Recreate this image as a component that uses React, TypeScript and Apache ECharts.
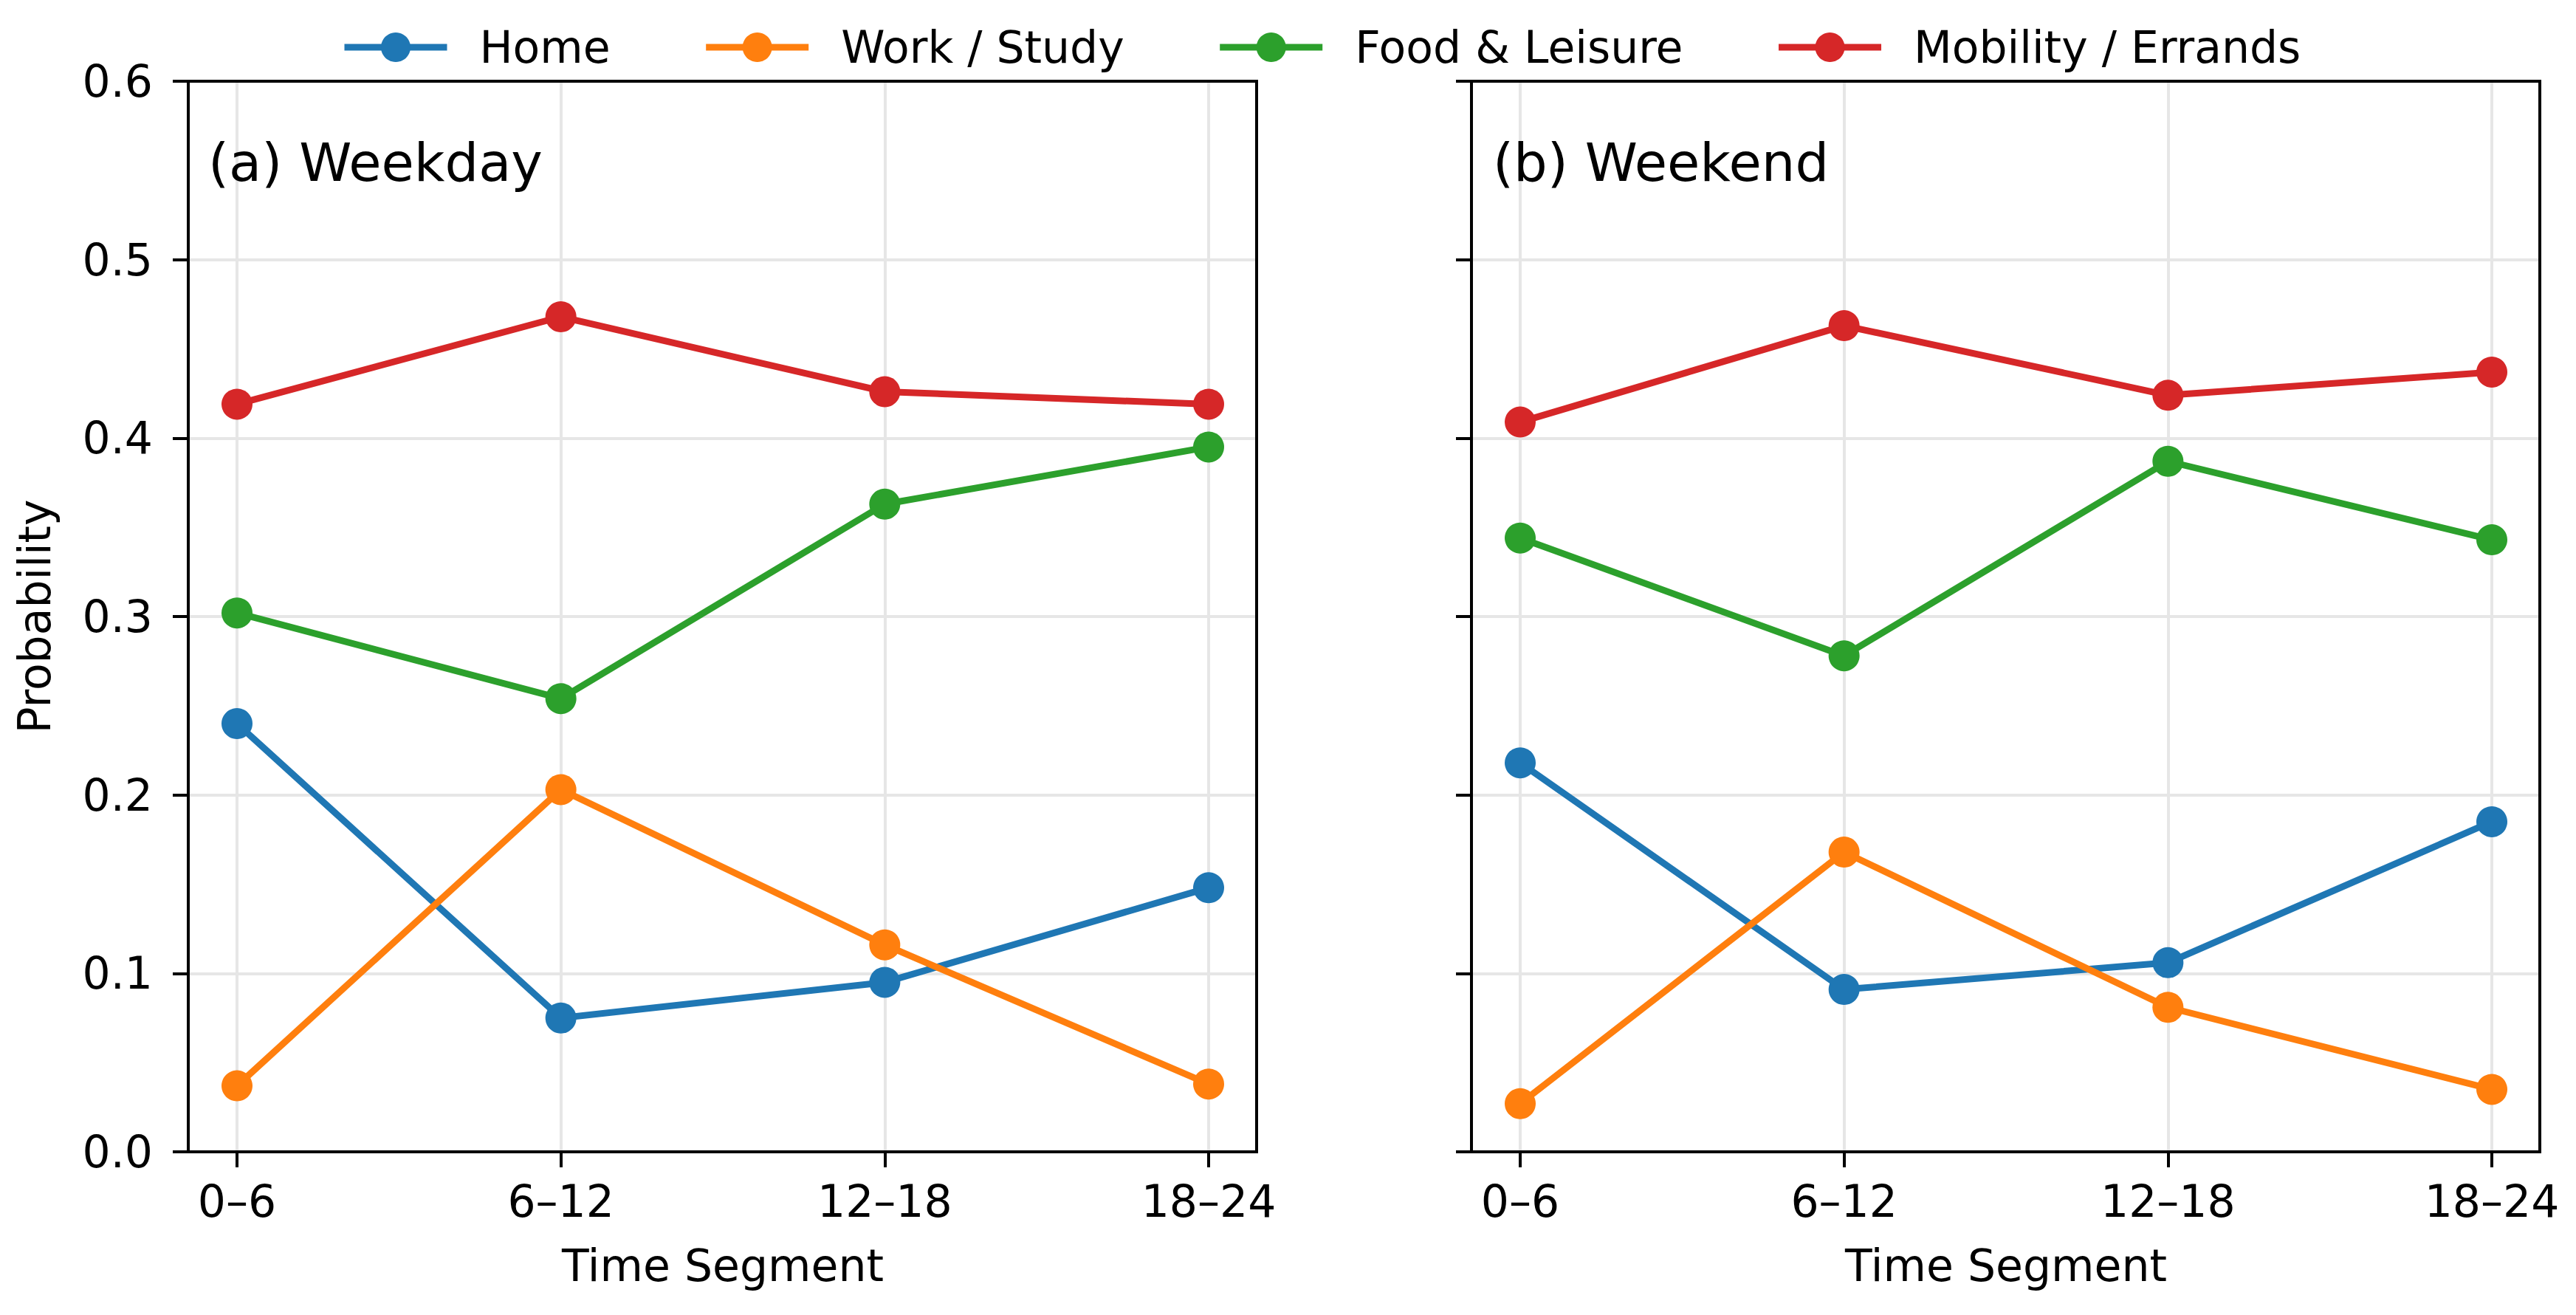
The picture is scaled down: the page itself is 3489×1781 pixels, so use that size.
import React, { useEffect, useRef } from 'react';
import * as echarts from 'echarts';

const CATEGORIES = ['0–6', '6–12', '12–18', '18–24'];
const SERIES_NAMES = ['Home', 'Work / Study', 'Food & Leisure', 'Mobility / Errands'];
const COLORS = ['#1f77b4', '#ff7f0e', '#2ca02c', '#d62728'];

const WEEKDAY_HOME = [0.240, 0.075, 0.095, 0.148];
const WEEKDAY_WORK = [0.037, 0.203, 0.116, 0.038];
const WEEKDAY_FOOD = [0.302, 0.254, 0.363, 0.395];
const WEEKDAY_MOBILITY = [0.419, 0.468, 0.426, 0.419];

const WEEKEND_HOME = [0.218, 0.091, 0.106, 0.185];
const WEEKEND_WORK = [0.027, 0.168, 0.081, 0.035];
const WEEKEND_FOOD = [0.344, 0.278, 0.387, 0.343];
const WEEKEND_MOBILITY = [0.409, 0.463, 0.424, 0.437];

const PANEL_TITLES = ['(a) Weekday', '(b) Weekend'];
const Y_MIN = 0;
const Y_MAX = 0.6;
const Y_STEP = 0.1;
const X_NAME = 'Time Segment';
const Y_NAME = 'Probability';

const FONT = 'DejaVu Sans';
const W = 3489;
const H = 1781;

function buildOption() {
  const panels = [
    { frameLeft: 255, dataLeft: 321, title: PANEL_TITLES[0], titleLeft: 282, data: [WEEKDAY_HOME, WEEKDAY_WORK, WEEKDAY_FOOD, WEEKDAY_MOBILITY], showYLabels: true },
    { frameLeft: 1993, dataLeft: 2059, title: PANEL_TITLES[1], titleLeft: 2022, data: [WEEKEND_HOME, WEEKEND_WORK, WEEKEND_FOOD, WEEKEND_MOBILITY], showYLabels: false },
  ];
  const top = 110;
  const height = 1450;
  const frameWidth = 1447;
  const dataWidth = 1316;
  const grid: any[] = [];
  const xAxis: any[] = [];
  const yAxis: any[] = [];
  const series: any[] = [];
  const title: any[] = [];
  const tickStyle = { show: true, length: 21, inside: false, lineStyle: { color: '#000', width: 4 } };
  const splitStyle = { color: '#e6e6e6', width: 4 };
  panels.forEach((p, i) => {
    const outer = i * 2;
    const inner = i * 2 + 1;
    grid.push({ left: p.frameLeft, top, width: frameWidth, height, show: true, borderColor: '#000', borderWidth: 4, backgroundColor: 'transparent', z: 3 });
    grid.push({ left: p.dataLeft, top, width: dataWidth, height });
    xAxis.push({ gridIndex: outer, type: 'value', min: 0, max: 1, show: false });
    xAxis.push({
      gridIndex: inner,
      type: 'category',
      data: CATEGORIES,
      boundaryGap: false,
      axisLine: { show: false },
      axisTick: { ...tickStyle, alignWithLabel: true, interval: 0 },
      axisLabel: { fontSize: 60, color: '#000', fontFamily: FONT, margin: 37, interval: 0 },
      splitLine: { show: true, interval: 0, lineStyle: splitStyle },
      name: X_NAME,
      nameLocation: 'middle',
      nameGap: 124,
      nameTextStyle: { fontSize: 60, color: '#000', fontFamily: FONT },
    });
    yAxis.push({
      gridIndex: outer,
      type: 'value',
      min: Y_MIN,
      max: Y_MAX,
      interval: Y_STEP,
      axisLine: { show: false },
      axisTick: tickStyle,
      axisLabel: {
        show: p.showYLabels,
        fontSize: 60,
        color: '#000',
        fontFamily: FONT,
        margin: 48,
        formatter: (v: number) => v.toFixed(1),
      },
      splitLine: { show: true, showMinLine: false, showMaxLine: false, lineStyle: splitStyle },
      name: p.showYLabels ? Y_NAME : '',
      nameLocation: 'middle',
      nameGap: 178,
      nameTextStyle: { fontSize: 60, color: '#000', fontFamily: FONT },
    });
    yAxis.push({ gridIndex: inner, type: 'value', min: Y_MIN, max: Y_MAX, show: false });
    SERIES_NAMES.forEach((name, k) => {
      series.push({
        type: 'line',
        name,
        xAxisIndex: inner,
        yAxisIndex: inner,
        data: p.data[k],
        symbol: 'circle',
        symbolSize: 42,
        color: COLORS[k],
        lineStyle: { color: COLORS[k], width: 9 },
        itemStyle: { color: COLORS[k] },
        z: 4 + k,
      });
    });
    title.push({
      text: p.title,
      left: p.titleLeft,
      top: 184,
      padding: 0,
      textStyle: { fontSize: 72, fontWeight: 'normal', color: '#000', fontFamily: FONT },
    });
  });
  return {
    animation: false,
    backgroundColor: '#fff',
    textStyle: { fontFamily: FONT },
    title,
    legend: {
      data: SERIES_NAMES,
      left: 462,
      top: 34,
      padding: 0,
      itemWidth: 139,
      itemHeight: 50,
      itemGap: 125,
      selectedMode: false,
      lineStyle: { width: 9 },
      textStyle: { fontSize: 60, color: '#000', fontFamily: FONT, padding: [0, 0, 0, 39] },
    },
    grid,
    xAxis,
    yAxis,
    series,
  };
}

export default function App() {
  const ref = useRef<HTMLDivElement>(null);
  useEffect(() => {
    const chart = echarts.init(ref.current as HTMLDivElement, null, { renderer: 'svg', width: W, height: H });
    chart.setOption(buildOption() as any);
    return () => chart.dispose();
  }, []);
  return (
    <div
      ref={ref}
      style={{ position: 'fixed', left: 0, top: 0, width: W, height: H, background: '#fff' }}
    />
  );
}
